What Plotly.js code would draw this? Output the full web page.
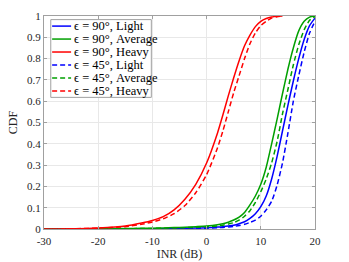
<!DOCTYPE html>
<html>
<head>
<meta charset="utf-8">
<script src="https://cdn.plot.ly/plotly-3.0.1.min.js"></script>
<style>html,body{margin:0;padding:0;background:#fff;}#chart{width:349px;height:262px;}</style>
</head>
<body>
<div id="chart"></div>
<script>
const xGrid = [-30,-25,-20,-15,-12,-10,-8,-6,-4,-2,0,2,3,4,5,6,7,8,9,10,11,12,13,14,15,16,17,18,19,20];

const light90   = [0,0,0.0003,0.0006,0.001,0.0013,0.0017,0.0023,0.003,0.0042,0.006,0.009,0.011,0.014,0.018,0.025,0.034,0.05,0.072,0.105,0.155,0.235,0.34,0.46,0.58,0.695,0.80,0.89,0.955,0.99];
const average90 = [0,0.0005,0.001,0.002,0.003,0.004,0.005,0.0065,0.0085,0.011,0.014,0.02,0.025,0.032,0.042,0.056,0.078,0.113,0.155,0.21,0.29,0.40,0.515,0.635,0.75,0.85,0.93,0.975,0.995,1.0];
const heavy90   = [0,0.001,0.005,0.014,0.028,0.04,0.058,0.09,0.14,0.21,0.31,0.45,0.535,0.625,0.71,0.79,0.86,0.91,0.95,0.975,0.988,0.995,0.999,1.0,null,null,null,null,null,null];
const light45   = [0,0,0.0002,0.0004,0.0007,0.0009,0.0012,0.0016,0.0021,0.003,0.004,0.006,0.007,0.009,0.012,0.016,0.022,0.031,0.042,0.06,0.09,0.13,0.205,0.31,0.45,0.60,0.72,0.83,0.92,0.975];
const average45 = [0,0.0004,0.0008,0.0014,0.002,0.0028,0.0036,0.0047,0.006,0.008,0.01,0.014,0.018,0.023,0.03,0.042,0.06,0.086,0.125,0.175,0.235,0.31,0.41,0.54,0.655,0.77,0.865,0.935,0.98,0.997];
const heavy45   = [0,0.001,0.004,0.011,0.022,0.033,0.048,0.072,0.11,0.17,0.255,0.38,0.46,0.55,0.64,0.72,0.80,0.87,0.92,0.955,0.975,0.99,0.997,1.0,null,null,null,null,null,null];

const seriesNames = ['ϵ = 90°, Light','ϵ = 90°, Average','ϵ = 90°, Heavy','ϵ = 45°, Light','ϵ = 45°, Average','ϵ = 45°, Heavy'];
const seriesData = [light90, average90, heavy90, light45, average45, heavy45];
const colors = ['#0000ff','#00a000','#ff0000','#0000ff','#00a000','#ff0000'];
const dashes = ['solid','solid','solid','5px,3px','5px,3px','5px,3px'];

const xTicks = [-30,-20,-10,0,10,20];
const yTicks = [0,0.1,0.2,0.3,0.4,0.5,0.6,0.7,0.8,0.9,1];
const yTickText = ['0','0.1','0.2','0.3','0.4','0.5','0.6','0.7','0.8','0.9','1'];

const traces = seriesData.map((d,i) => ({
  x: xGrid, y: d, type: 'scatter', mode: 'lines', name: seriesNames[i],
  line: {color: colors[i], width: 1.5, dash: dashes[i], shape: 'spline', smoothing: 0.6},
  connectgaps: false, showlegend: false
}));

const fam = '"Liberation Serif","DejaVu Serif",serif';
const font = {family: fam, color: '#262626', size: 11};

// Manual legend (paper coordinates of the plot area)
const legX0 = 0.025, legX1 = 0.396, legY0 = 0.618, legY1 = 0.983;
const rowH = (legY1 - legY0) / seriesNames.length;
const shapes = [{type: 'rect', xref: 'paper', yref: 'paper', x0: legX0, x1: legX1, y0: legY0, y1: legY1,
  line: {color: '#a0a0a0', width: 1}, fillcolor: '#ffffff', layer: 'above'}];
const annotations = [];
seriesNames.forEach((n, i) => {
  const yc = legY1 - rowH * (i + 0.5);
  shapes.push({type: 'line', xref: 'paper', yref: 'paper', x0: 0.03, x1: 0.10, y0: yc, y1: yc,
    line: {color: colors[i], width: 1.5, dash: dashes[i]}, layer: 'above'});
  annotations.push({xref: 'paper', yref: 'paper', x: 0.104, y: yc, xanchor: 'left', yanchor: 'middle',
    text: n, showarrow: false, font: {family: fam, size: 12.5, color: '#000'}});
});

const layout = {
  width: 349, height: 262,
  margin: {l: 44, r: 34, t: 16, b: 33},
  paper_bgcolor: '#fff', plot_bgcolor: '#fff',
  font: font,
  showlegend: false,
  shapes: shapes,
  annotations: annotations,
  xaxis: {
    range: [-30, 20], tickvals: xTicks, ticktext: xTicks.map(String),
    showgrid: true, gridcolor: '#e8e8e8', zeroline: false,
    showline: true, linecolor: '#a0a0a0', linewidth: 1, mirror: 'ticks',
    ticks: 'inside', ticklen: 3, tickcolor: '#a0a0a0', ticklabelstandoff: 2,
    title: {text: 'INR (dB)', font: {family: fam, size: 12, color: '#262626'}, standoff: 2}
  },
  yaxis: {
    range: [0, 1], tickvals: yTicks, ticktext: yTickText,
    showgrid: true, gridcolor: '#e8e8e8', zeroline: false,
    showline: true, linecolor: '#a0a0a0', linewidth: 1, mirror: 'ticks',
    ticks: 'inside', ticklen: 3, tickcolor: '#a0a0a0',
    title: {text: 'CDF', font: {family: fam, size: 12, color: '#262626'}, standoff: 6}
  }
};

Plotly.newPlot('chart', traces, layout, {displayModeBar: false, staticPlot: true});
</script>
</body>
</html>
